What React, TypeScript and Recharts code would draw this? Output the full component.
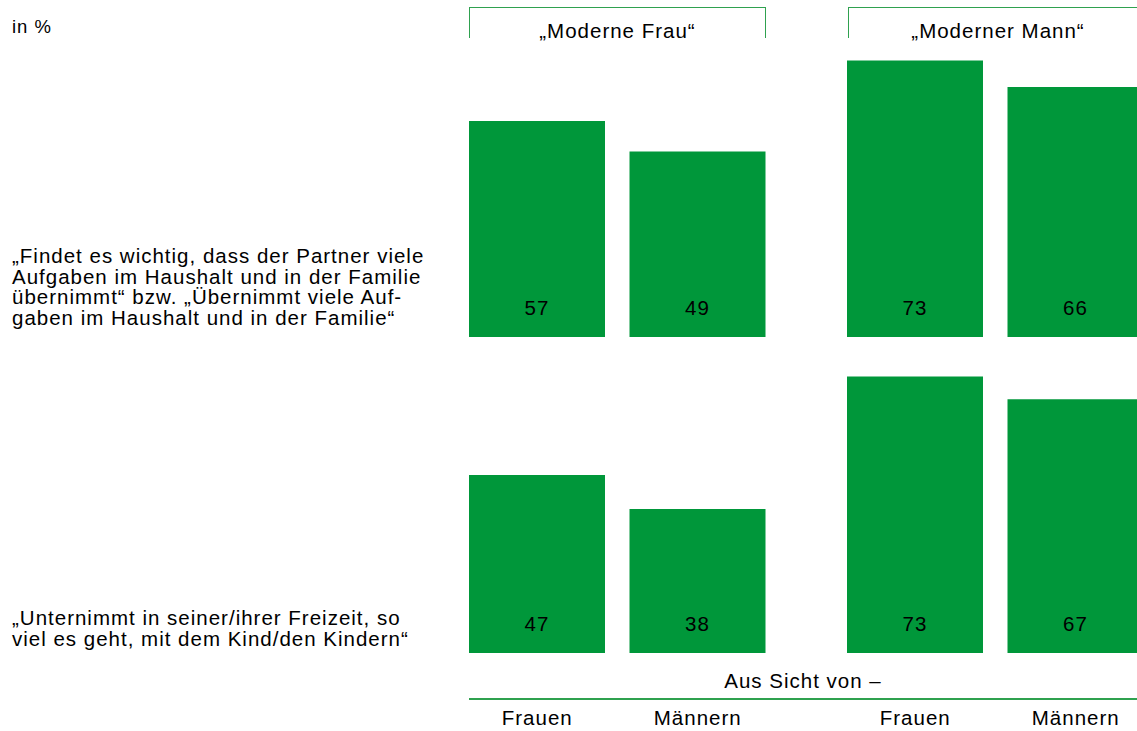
import React from 'react';
import { BarChart, Bar, XAxis, YAxis, LabelList } from 'recharts';

// Perspectives (who answered)
const perspectives = ['Frauen', 'Männern'];

// Statements (rows), already split into the printed lines
const statementLines = [
  ['„Findet es wichtig, dass der Partner viele', 'Aufgaben im Haushalt und in der Familie', 'übernimmt“ bzw. „Übernimmt viele Auf-', 'gaben im Haushalt und in der Familie“'],
  ['„Unternimmt in seiner/ihrer Freizeit, so', 'viel es geht, mit dem Kind/den Kindern“'],
];

// Groups (columns)
const groups = ['„Moderne Frau“', '„Moderner Mann“'];

// values in % : [row][perspective]
const moderneFrau = [
  [57, 49],
  [47, 38],
];
const modernerMann = [
  [73, 66],
  [73, 67],
];

const GREEN = '#00973a';
const LINE_GREEN = '#2fa14f';
const FONT = '"Liberation Sans", Arial, sans-serif';
const FS = 20.5;
const LS = '1px';

const toData = (vals: number[]) => perspectives.map((p, i) => ({ name: p, value: vals[i] }));

const Panel: React.FC<{ vals: number[]; showAxis: boolean; left: number; top: number }> = ({ vals, showAxis, left, top }) => (
  <div style={{ position: 'absolute', left, top }}>
    <BarChart
      width={321}
      height={showAxis ? 383 : 303}
      data={toData(vals)}
      margin={{ top: 0, right: 0, bottom: 0, left: 0 }}
    >
      <XAxis
        dataKey="name"
        hide={!showAxis}
        axisLine={false}
        tickLine={false}
        tickSize={0}
        tickMargin={57}
        height={80}
        interval={0}
        tick={{ fill: '#000', fontSize: FS, fontFamily: FONT, letterSpacing: LS }}
      />
      <YAxis hide domain={[0, 80]} />
      <Bar dataKey="value" fill={GREEN} barSize={136} isAnimationActive={false}>
        <LabelList
          dataKey="value"
          position="insideBottom"
          offset={22}
          fill="#000"
          fontSize={FS}
          fontFamily={FONT}
          style={{ letterSpacing: LS }}
        />
      </Bar>
    </BarChart>
  </div>
);

const App: React.FC = () => {
  const groupLeft = [457, 835];
  const rowTop = [34, 350];
  const rowTextTop = [246, 608];
  return (
    <div
      style={{
        position: 'absolute',
        left: 0,
        top: 0,
        width: 1137,
        height: 731,
        overflow: 'hidden',
        background: '#fff',
        fontFamily: FONT,
        color: '#000',
        letterSpacing: LS,
      }}
    >
      <div style={{ position: 'absolute', left: 12, top: 16, fontSize: 18.5 }}>in %</div>

      {statementLines.map((lines, r) => (
        <div
          key={r}
          style={{ position: 'absolute', left: 12, top: rowTextTop[r], fontSize: FS, lineHeight: '20.5px' }}
        >
          {lines.map((l, i) => (
            <div key={i} style={{ whiteSpace: 'nowrap' }}>{l}</div>
          ))}
        </div>
      ))}

      {/* group headers */}
      {groups.map((g, gi) => {
        const left = gi === 0 ? 469 : 848;
        const width = gi === 0 ? 297 : 300;
        return (
          <div
            key={g}
            style={{
              position: 'absolute',
              left,
              top: 7,
              width,
              height: 31,
              borderTop: `1px solid ${LINE_GREEN}`,
              borderLeft: `1px solid ${LINE_GREEN}`,
              borderRight: `1px solid ${LINE_GREEN}`,
              boxSizing: 'border-box',
              textAlign: 'center',
              fontSize: FS,
              lineHeight: '46px',
            }}
          >
            {g}
          </div>
        );
      })}

      {[moderneFrau, modernerMann].map((grp, gi) =>
        grp.map((vals, r) => (
          <Panel key={`${gi}-${r}`} vals={vals} showAxis={r === 1} left={groupLeft[gi]} top={rowTop[r]} />
        ))
      )}

      <div
        style={{
          position: 'absolute',
          left: 469,
          width: 668,
          top: 669,
          textAlign: 'center',
          fontSize: FS,
        }}
      >
        Aus Sicht von –
      </div>
      <div style={{ position: 'absolute', left: 469, top: 698, width: 668, height: 1.5, background: LINE_GREEN }} />
    </div>
  );
};

export default App;
